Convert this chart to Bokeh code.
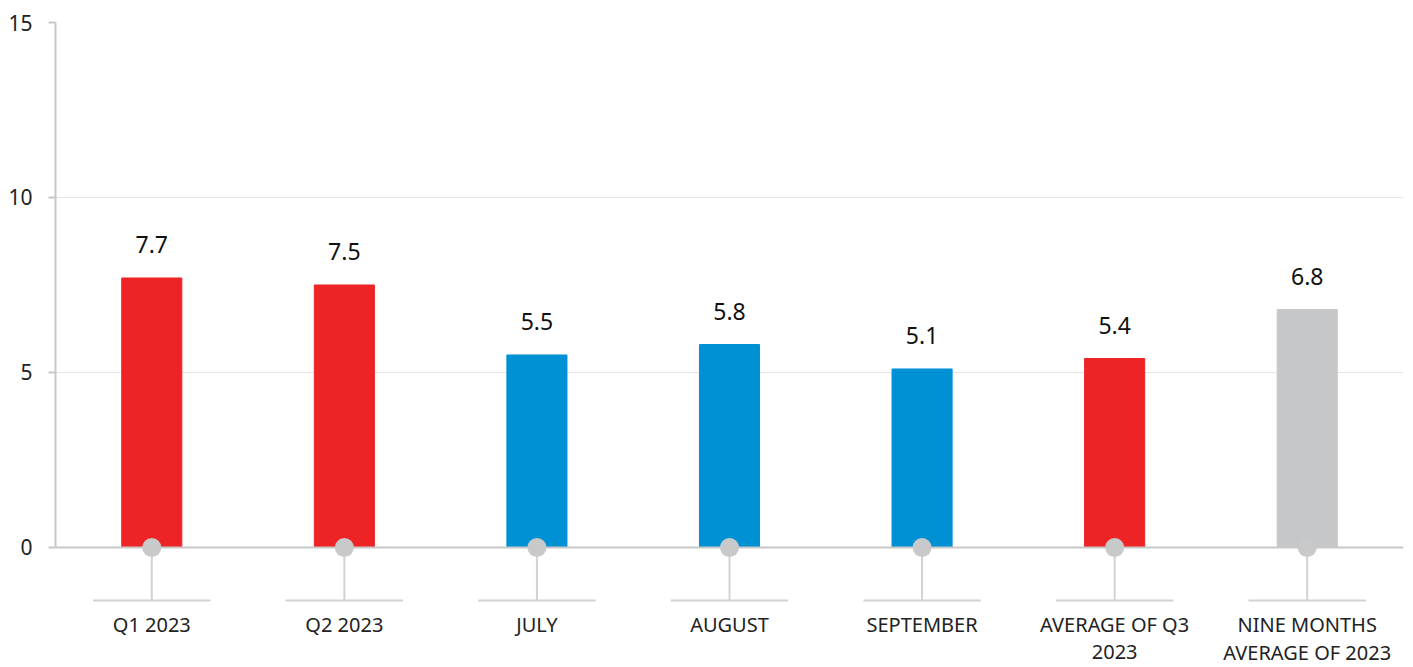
from bokeh.plotting import figure
from bokeh.models import ColumnDataSource, FixedTicker, Span
from bokeh.core.properties import value
from bokeh.embed import file_html
from bokeh.resources import INLINE

categories = ["Q1 2023", "Q2 2023", "JULY", "AUGUST", "SEPTEMBER", "AVERAGE OF Q3\n2023", "NINE MONTHS\nAVERAGE OF 2023"]
values = [7.7, 7.5, 5.5, 5.8, 5.1, 5.4, 6.8]
labels = ["7.7", "7.5", "5.5", "5.8", "5.1", "5.4", "6.8"]
colors = ["#EE2326", "#EE2326", "#0091D5", "#0091D5", "#0091D5", "#EE2326", "#C6C7C9"]
y_ticks = [0, 5, 10, 15]

FONT = "Noto Sans"
xs = [i + 0.5 for i in range(len(categories))]
line1 = [c.split("\n")[0] for c in categories]
line2 = [c.split("\n")[1] if "\n" in c else "" for c in categories]
stem_y = -1.514
l1_y = -2.2
l2_y = -2.99

src = ColumnDataSource(dict(x=xs, top=values, color=colors, lab=labels, l1=line1, l2=line2,
                            zero=[0] * len(xs), stem=[stem_y] * len(xs),
                            y1=[l1_y] * len(xs), y2=[l2_y] * len(xs),
                            x0=[x - 0.305 for x in xs], x1=[x + 0.305 for x in xs]))

p = figure(width=1413, height=667, output_backend="svg", toolbar_location=None,
           x_range=(0, 7), y_range=(-3.4286, 15),
           min_border_left=55, min_border_right=10, min_border_top=22, min_border_bottom=0)
p.outline_line_color = None
p.xaxis.visible = False
p.xgrid.visible = False

p.yaxis.ticker = FixedTicker(ticks=y_ticks)
p.yaxis.bounds = (0, 15)
p.yaxis.axis_line_color = "#c8c8c8"
p.yaxis.axis_line_width = 2
p.yaxis.major_tick_line_color = "#c8c8c8"
p.yaxis.major_tick_line_width = 2
p.yaxis.major_tick_out = 7
p.yaxis.major_tick_in = 0
p.yaxis.minor_tick_line_color = None
p.yaxis.major_label_text_font = FONT
p.yaxis.major_label_text_font_size = "21px"
p.yaxis.major_label_text_color = "#222222"
p.yaxis.major_label_standoff = 16

p.ygrid.ticker = FixedTicker(ticks=[5, 10, 15])
p.ygrid.grid_line_color = "#e6e6e6"
p.ygrid.grid_line_width = 1

p.vbar(x="x", top="top", bottom=0, width=0.312, color="color", source=src)
p.add_layout(Span(location=0, dimension="width", line_color="#c8c8c8", line_width=2))

p.segment(x0="x", y0="zero", x1="x", y1="stem", line_color="#d2d2d2", line_width=2, source=src)
p.segment(x0="x0", y0="stem", x1="x1", y1="stem", line_color="#d2d2d2", line_width=2, source=src)
p.scatter(x="x", y="zero", size=19, marker="circle", fill_color="#c8c9cb", line_color=None, source=src)

p.text(x="x", y="top", text="lab", source=src, text_align="center", text_baseline="alphabetic",
       y_offset=-33, text_font=value(FONT), text_font_size="23px", text_color="#111111")
p.text(x="x", y="y1", text="l1", source=src, text_align="center", text_baseline="middle",
       text_font=value(FONT), text_font_size="20px", text_color="#222222")
p.text(x="x", y="y2", text="l2", source=src, text_align="center", text_baseline="middle",
       text_font=value(FONT), text_font_size="20px", text_color="#222222")

open("out.html", "w").write(file_html(p, INLINE))
